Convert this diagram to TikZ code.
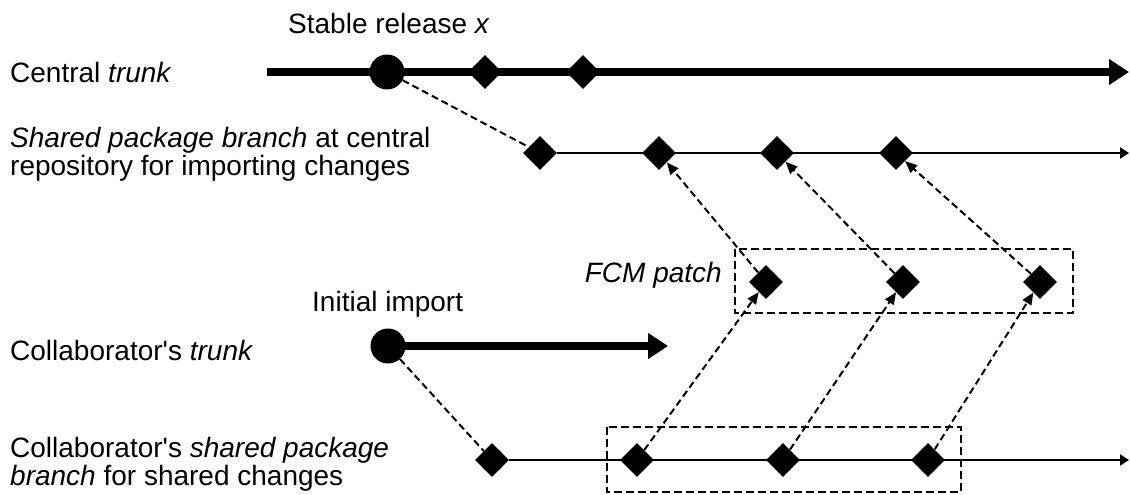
\documentclass[tikz,border=0pt]{standalone}
\usepackage{fontspec}
\setmainfont{Liberation Sans}
\usetikzlibrary{arrows.meta,shapes.geometric}
\begin{document}
\begin{tikzpicture}[x=1pt,y=-1pt,
  lbl/.style={anchor=base west,inner sep=0pt,font=\fontsize{28}{28}\selectfont},
  dia/.style={diamond,fill=black,inner sep=0pt,minimum size=34pt},
  dot/.style={circle,fill=black,inner sep=0pt,minimum size=35pt},
  trunkline/.style={line width=8pt,-{Triangle[length=20pt,width=25pt]}},
  branchline/.style={line width=2pt,-{Triangle[length=9pt,width=11pt]}},
  link/.style={line width=2pt,dash pattern=on 7pt off 4pt},
  linkarrow/.style={link,-{Triangle[length=12pt,width=10pt]}},
  group/.style={draw,line width=1.8pt,dash pattern=on 8pt off 4pt}]
\useasboundingbox (0,0) rectangle (1130,495);

% central trunk
\coordinate (tstart) at (267,72);
\coordinate (tend) at (1129,72);
\draw[trunkline] (tstart) -- (tend);
\node[dot] (c0) at (387,72) {};
\node[dia] (t1) at (485,72) {};
\node[dia] (t2) at (583,72) {};

% shared package branch
\node[dia] (s0) at (540,153) {};
\node[dia] (s1) at (659,153) {};
\node[dia] (s2) at (777,153) {};
\node[dia] (s3) at (896,153) {};
\coordinate (send) at (1129,153);
\draw[branchline] (s0.east) -- (send);

% FCM patch
\draw[group] (735,249) rectangle (1073,313);
\node[dia] (f1) at (766,282) {};
\node[dia] (f2) at (903,282) {};
\node[dia] (f3) at (1040,282) {};

% collaborator trunk
\node[dot] (c1) at (388,346) {};
\coordinate (cend) at (668,346);
\draw[trunkline] (c1.center) -- (cend);

% collaborator shared branch
\draw[group] (607,427) rectangle (961,492);
\node[dia] (b0) at (492,460) {};
\node[dia] (b1) at (637,460) {};
\node[dia] (b2) at (783,460) {};
\node[dia] (b3) at (928,460) {};
\coordinate (bend) at (1129,460);
\draw[branchline] (b0.east) -- (bend);

% links
\draw[link] (c0) -- (s0);
\draw[link] (c1) -- (b0);
\draw[linkarrow] (f1) -- (s1);
\draw[linkarrow] (f2) -- (s2);
\draw[linkarrow] (f3) -- (s3);
\draw[linkarrow] (b1) -- (f1);
\draw[linkarrow] (b2) -- (f2);
\draw[linkarrow] (b3) -- (f3);

% labels
\node[lbl] (lstable) at (288,34) {Stable release \textit{x}};
\node[lbl] (lcentral) at (10,82) {Central \textit{trunk}};
\node[lbl] (lshared1) at (10,147) {\textit{Shared package branch} at central};
\node[lbl] (lshared2) at (10,175) {repository for importing changes};
\node[lbl,anchor=base east] (lfcm) at (722,282) {\textit{FCM patch}};
\node[lbl] (linit) at (312,311) {Initial import};
\node[lbl] (lcollab) at (10,360) {Collaborator\textquotesingle s \textit{trunk}};
\node[lbl] (lcs1) at (10,457) {Collaborator\textquotesingle s \textit{shared package}};
\node[lbl] (lcs2) at (10,485) {\textit{branch} for shared changes};
\end{tikzpicture}
\end{document}
